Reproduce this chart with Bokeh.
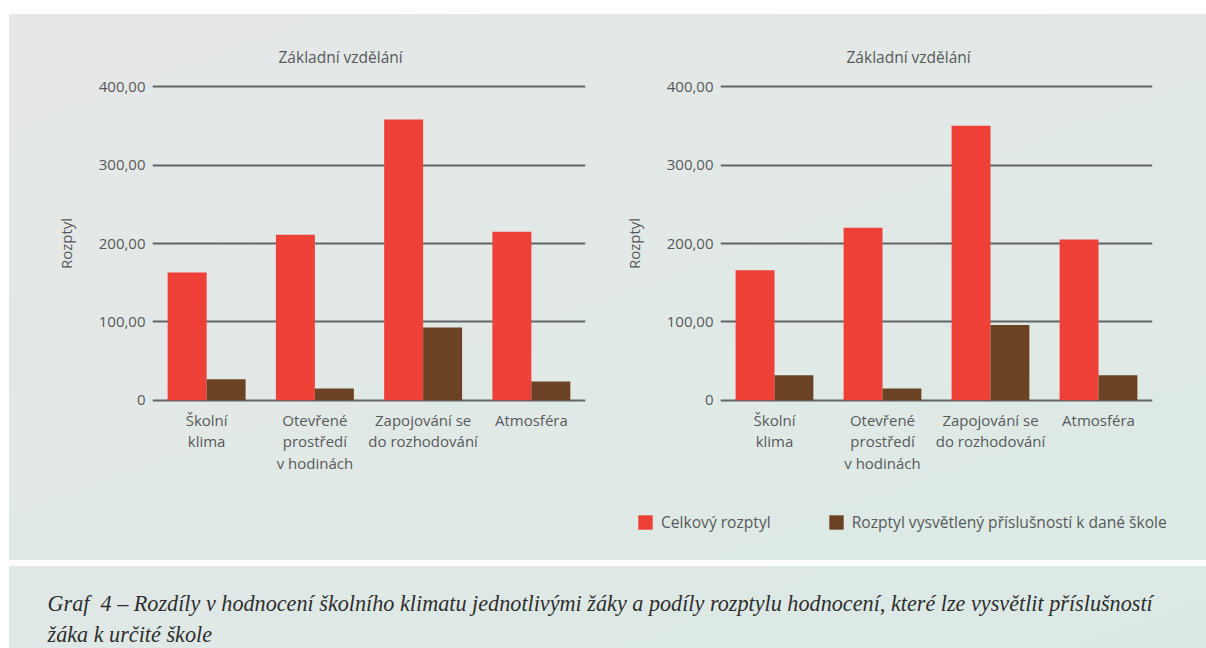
from bokeh.plotting import figure
from bokeh.models import (ColumnDataSource, FactorRange, Range1d, FixedTicker,
                          Legend, LegendItem, Title)
from bokeh.transform import dodge
from bokeh.layouts import row, column
from bokeh.core.properties import value
from bokeh.embed import file_html
from bokeh.resources import INLINE

# --- data -------------------------------------------------------------
categories = ["Školní\nklima", "Otevřené\nprostředí\nv hodinách",
              "Zapojování se\ndo rozhodování", "Atmosféra"]
panel_titles = ["Základní vzdělání", "Základní vzdělání"]
total_left = [163, 211, 358, 215]
school_left = [27, 15, 93, 24]
total_right = [166, 220, 350, 205]
school_right = [32, 15, 96, 32]
y_ticks = [0, 100, 200, 300, 400]
y_tick_labels = ["0", "100,00", "200,00", "300,00", "400,00"]
y_axis_title = "Rozptyl"
series_names = ["Celkový rozptyl", "Rozptyl vysvětlený příslušností k dané škole"]
caption_lines = [
    "Graf\u00a0\u00a04 – Rozdíly v hodnocení školního klimatu jednotlivými žáky a podíly rozptylu hodnocení, které lze vysvětlit příslušností",
    "žáka k určité škole",
]

# --- style ------------------------------------------------------------
RED = "#ee4036"
BROWN = "#6b4224"
GRID = "#626466"
TEXT = "#58595b"
FONT = "Open Sans"


def make_panel(title, total, school, width, border_left, border_right):
    src = ColumnDataSource(dict(cat=categories, total=total, school=school))
    p = figure(x_range=FactorRange(*categories, range_padding=0),
               y_range=Range1d(-4, 404),
               width=width, height=490,
               min_border_left=border_left, min_border_right=border_right,
               min_border_top=69, min_border_bottom=101,
               output_backend="svg", toolbar_location=None)
    p.background_fill_color = None
    p.border_fill_color = None
    p.outline_line_color = None

    p.vbar(x=dodge("cat", -0.18, range=p.x_range), top="total", width=0.36,
           source=src, fill_color=RED, line_color=None)
    p.vbar(x=dodge("cat", 0.18, range=p.x_range), top="school", width=0.36,
           source=src, fill_color=BROWN, line_color=None)

    t = Title(text=title, align="left", offset=126,
              text_font=FONT, text_font_size="15.5px", text_font_style="normal",
              text_color=TEXT, standoff=31)
    p.add_layout(t, "above")

    # y axis
    p.yaxis.ticker = FixedTicker(ticks=y_ticks)
    p.yaxis.major_label_overrides = dict(zip(y_ticks, y_tick_labels))
    p.yaxis.axis_line_color = None
    p.yaxis.major_tick_line_color = None
    p.yaxis.minor_tick_line_color = None
    p.yaxis.major_tick_out = 0
    p.yaxis.major_label_standoff = 7
    p.yaxis.major_label_text_font = FONT
    p.yaxis.major_label_text_font_size = "15px"
    p.yaxis.major_label_text_color = TEXT
    p.yaxis.axis_label = y_axis_title
    p.yaxis.axis_label_text_font = FONT
    p.yaxis.axis_label_text_font_size = "15px"
    p.yaxis.axis_label_text_font_style = "normal"
    p.yaxis.axis_label_text_color = TEXT
    p.yaxis.axis_label_standoff = 20

    # x axis
    p.xaxis.axis_line_color = None
    p.xaxis.major_tick_line_color = None
    p.xaxis.major_tick_out = 0
    p.xaxis.major_label_standoff = 6
    p.xaxis.major_label_text_font = FONT
    p.xaxis.major_label_text_font_size = "15px"
    p.xaxis.major_label_text_color = TEXT
    p.xaxis.major_label_text_line_height = 1.08

    p.xgrid.grid_line_color = None
    p.ygrid.grid_line_color = GRID
    p.ygrid.grid_line_width = 2.2
    p.ygrid.ticker = FixedTicker(ticks=y_ticks)
    return p


p1 = make_panel(panel_titles[0], total_left, school_left, 611, 143, 35)
p2 = make_panel(panel_titles[1], total_right, school_right, 586, 99, 54)

# legend strip under the panels: zero-height swatch renderers carry the colours
leg = figure(width=1197, height=56, x_range=Range1d(0, 1), y_range=Range1d(0, 1),
             min_border=0, output_backend="svg", toolbar_location=None)
leg.axis.visible = False
leg.grid.visible = False
leg.outline_line_color = None
leg.background_fill_color = None
leg.border_fill_color = None
swatch = ColumnDataSource(dict(x=[0], top=[0]))
lr1 = leg.vbar(x="x", top="top", width=0, source=swatch, fill_color=RED, line_color=None)
lr2 = leg.vbar(x="x", top="top", width=0, source=swatch, fill_color=BROWN, line_color=None)
legend = Legend(items=[LegendItem(label=series_names[0], renderers=[lr1]),
                       LegendItem(label=series_names[1], renderers=[lr2])],
                orientation="horizontal", location=(627, 27),
                padding=0, margin=0, spacing=56,
                glyph_width=18, glyph_height=18, label_height=18,
                label_standoff=7,
                label_text_font=FONT, label_text_font_size="15.6px",
                label_text_color=TEXT,
                background_fill_alpha=0, border_line_color=None)
leg.add_layout(legend, "center")

top = column(row(p1, p2), leg)
top.margin = (14, 0, 0, 9)
top.styles = {"background": "linear-gradient(160deg, #e6e7e8 0%, #e1e9e6 55%, #dceae5 100%)"}

# caption box
cap = figure(width=1197, height=82, x_range=Range1d(0, 1197), y_range=Range1d(82, 0),
             min_border=0, output_backend="svg", toolbar_location=None)
cap.axis.visible = False
cap.grid.visible = False
cap.outline_line_color = None
cap.background_fill_color = None
cap.border_fill_color = None
cap.text(x=[38, 38], y=[37, 68], text=caption_lines,
         text_font=value("Liberation Serif"), text_font_style="italic",
         text_font_size="22.2px", text_color="#2e2e2e",
         text_baseline="alphabetic", text_align="left")
cap.margin = (6, 0, 0, 9)
cap.styles = {"background": "linear-gradient(160deg, #e0e8e6 0%, #dbe9e5 100%)"}

layout = column(top, cap)
layout.styles = {"background": "#ffffff"}

open("out.html", "w").write(file_html(layout, INLINE))
